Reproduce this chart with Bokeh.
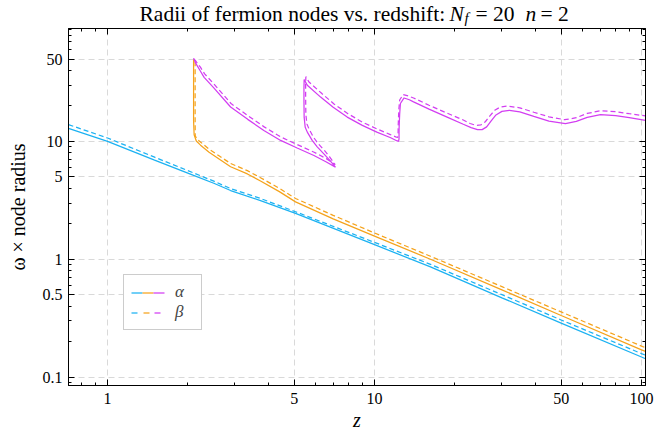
from bokeh.plotting import figure
from bokeh.layouts import column
from bokeh.models import (Range1d, FixedTicker, LogAxis, CustomJSTickFormatter, Label,
                          Legend, LegendItem, ColumnDataSource)
from bokeh.embed import file_html
from bokeh.resources import INLINE

# ---------------- data ----------------
blue_x = [0.714, 1.0, 1.5, 2.1, 2.5, 2.89, 3.74, 5.06, 10, 16.2, 30, 50, 100, 103.5]
blue_y = [12.9, 10.0, 6.95, 5.15, 4.42, 3.83, 3.15, 2.45, 1.33, 0.86, 0.47, 0.287, 0.148, 0.143]
blue_dash_y = [13.9, 10.7, 7.35, 5.4, 4.6, 3.98, 3.28, 2.53, 1.39, 0.905, 0.5, 0.305, 0.158, 0.153]

orange_x = [2.10, 2.10, 2.10, 2.11, 2.15, 2.23, 2.4, 2.65, 2.89, 3.34, 3.74, 4.4, 5.06, 7, 10, 16.2, 30, 50, 100, 103.5]
orange_y = [50, 30, 15, 11.4, 10.1, 9.3, 8.1, 6.95, 6.1, 5.3, 4.62, 3.75, 3.07, 2.2, 1.57, 1.0, 0.55, 0.333, 0.17, 0.165]
orange_dash_x = [2.128, 2.128, 2.128, 2.13, 2.16, 2.24, 2.4, 2.65, 2.89, 3.34, 3.74, 4.4, 5.06, 7, 10, 16.2, 30, 50, 100, 103.5]
orange_dash_y = [48, 30, 15, 11.2, 10.5, 9.8, 8.6, 7.4, 6.5, 5.65, 4.92, 4.0, 3.28, 2.36, 1.67, 1.06, 0.585, 0.357, 0.183, 0.177]

mag_x = [2.10, 2.14, 2.22, 2.30, 2.50, 2.89, 3.35, 3.85, 4.45, 5.13, 5.93, 6.60, 7.14, 6.80, 6.46,
         6.10, 5.84, 5.60, 5.50, 5.45, 5.44, 5.44, 5.45, 5.60, 6.28, 7.00, 7.90, 9.00, 10.2, 11.5,
         12.1, 12.3, 12.35, 12.36, 12.42, 12.5, 12.9, 13.5, 14.0, 16.0, 18.7,
         21.5, 23.0, 24.3, 25.3, 26.3, 27.3, 28.5, 30.0, 32.0, 35.0, 39.5, 45.0, 51.9, 57.0,
         62.6, 70.2, 80.0, 90.0, 103.5]
mag_y = [51, 46, 40, 35, 28.5, 19.6, 15.4, 12.4, 10.2, 8.8, 7.6, 6.7, 6.05, 6.9, 7.85,
         9.0, 10.2, 12.0, 13.2, 16, 22, 28, 33.5, 30, 23.8, 19.5, 16.1, 13.7, 12.0, 10.75,
         10.15, 10.0, 10.5, 13, 17, 21, 23.4, 22.6, 21.7, 18.8, 16.1,
         14.0, 13.1, 12.6, 12.6, 13.3, 14.9, 16.8, 18.0, 18.4, 17.8, 16.3, 14.9, 14.2, 14.8,
         16.0, 16.9, 16.6, 15.9, 15.1]
mag_dash_x = [2.11, 2.15, 2.23, 2.31, 2.51, 2.90, 3.36, 3.86, 4.46, 5.14, 5.94, 6.60, 7.12, 6.82, 6.50,
              6.15, 5.90, 5.68, 5.58, 5.53, 5.52, 5.52, 5.53, 5.68, 6.35, 7.05, 7.95, 9.00, 10.2, 11.4,
              12.0, 12.2, 12.25, 12.27, 12.33, 12.42, 12.8, 13.4, 14.0, 16.0, 18.7,
              21.5, 22.8, 24.0, 25.0, 26.0, 27.0, 28.2, 29.6, 31.5, 35.0, 39.5, 45.0, 51.5, 57.0,
              62.6, 70.0, 80.0, 90.0, 103.5]
mag_dash_y = [50, 47.5, 42.5, 37.5, 30.5, 21, 16.5, 13.3, 10.9, 9.4, 8.1, 7.15, 6.35, 7.3, 8.35,
              9.6, 10.9, 12.8, 14.1, 17, 23.5, 30, 35.5, 32, 25.5, 20.8, 17.2, 14.6, 12.8, 11.5,
              10.95, 10.8, 11.3, 14, 18.5, 22.5, 25, 24.3, 23.4, 20.3, 17.4,
              15.2, 14.2, 13.7, 13.8, 14.7, 16.4, 18.4, 19.6, 20.0, 19.3, 17.7, 16.2, 15.3, 15.9,
              17.3, 18.2, 17.9, 17.2, 16.5]

x_major = [1, 5, 10, 50, 100]
x_minor = [0.8, 0.9, 2, 3, 4, 6, 7, 8, 9, 20, 30, 40, 60, 70, 80, 90]
y_major = [0.1, 0.5, 1, 5, 10, 50]
y_minor = [0.09, 0.2, 0.3, 0.4, 0.6, 0.7, 0.8, 0.9, 2, 3, 4, 6, 7, 8, 9, 20, 30, 40, 60, 70, 80, 90]
x_grid = [1, 5, 10, 50, 100]
y_grid = [0.1, 0.5, 1, 5, 10, 50]

BLUE = "#1cb2f2"
ORANGE = "#f5a31c"
MAGENTA = "#d33ef2"
FONT = "Liberation Serif"

# ---------------- title strip (its frame is aligned with the main frame: page x 68..645) ----------------
tp = figure(width=656, height=28, x_range=Range1d(68, 645), y_range=Range1d(0, 28), title=None,
            x_axis_location=None, y_axis_location=None, output_backend="svg",
            toolbar_location=None, min_border=0)
tp.outline_line_color = None
tp.grid.visible = False
tp.background_fill_color = "white"
tp.border_fill_color = "white"
TY = 15
pieces = [("Radii of fermion nodes vs. redshift:", 139, TY, "normal", "21.5px"),
          ("N", 449, TY, "italic", "21.5px"),
          ("f", 464, TY - 4.5, "italic", "15px"),
          ("= 20", 475, TY, "normal", "21.5px"),
          ("n", 525, TY, "italic", "21.5px"),
          ("= 2", 540, TY, "normal", "21.5px")]
for txt, x, y, style, size in pieces:
    tp.add_layout(Label(x=x, y=y, text=txt, text_font=FONT, text_font_size=size,
                        text_font_style=style, text_color="black",
                        text_baseline="alphabetic", text_align="left"))

# ---------------- main plot ----------------
p = figure(width=656, height=406, x_axis_type="log", y_axis_type="log",
           x_range=Range1d(0.714, 103.5), y_range=Range1d(0.0847, 91),
           output_backend="svg", toolbar_location=None,
           min_border_left=68, min_border_right=11, min_border_top=0, min_border_bottom=49)
p.background_fill_color = "white"
p.border_fill_color = "white"
p.outline_line_color = "black"

p.xaxis.ticker = FixedTicker(ticks=x_major, minor_ticks=x_minor)
p.yaxis.ticker = FixedTicker(ticks=y_major, minor_ticks=y_minor)
p.xaxis.formatter = CustomJSTickFormatter(code="return String(tick)")
p.yaxis.formatter = CustomJSTickFormatter(code="return String(tick)")

for ax in [p.xaxis[0], p.yaxis[0]]:
    ax.major_tick_in = 6
    ax.major_tick_out = 0
    ax.minor_tick_in = 3
    ax.minor_tick_out = 0
    ax.axis_line_color = "black"
    ax.major_tick_line_color = "black"
    ax.minor_tick_line_color = "black"
    ax.major_label_text_font = FONT
    ax.major_label_text_font_size = "16px"
    ax.major_label_text_color = "black"
    ax.axis_label_text_font = FONT
    ax.axis_label_text_font_size = "20px"
    ax.axis_label_text_color = "black"

p.xaxis.axis_label = "z"
p.xaxis.axis_label_text_font_style = "italic"
p.xaxis.major_label_standoff = 7
p.xaxis.axis_label_standoff = 2
p.yaxis.axis_label = "ω × node radius"
p.yaxis.axis_label_text_font_style = "normal"
p.yaxis.major_label_standoff = 6
p.yaxis.axis_label_standoff = 11

for side, ticks, minors in [("right", y_major, y_minor), ("above", x_major, x_minor)]:
    ax = LogAxis(ticker=FixedTicker(ticks=ticks, minor_ticks=minors),
                 formatter=CustomJSTickFormatter(code="return ''"),
                 major_label_text_font_size="0px", major_label_standoff=0,
                 major_tick_in=6, major_tick_out=0, minor_tick_in=3, minor_tick_out=0,
                 axis_line_color="black")
    p.add_layout(ax, side)

p.xgrid.ticker = FixedTicker(ticks=x_grid)
p.ygrid.ticker = FixedTicker(ticks=y_grid)
for g in [p.xgrid[0], p.ygrid[0]]:
    g.grid_line_color = "#d9d9d9"
    g.grid_line_dash = "6 4"
    g.grid_line_width = 1

LW = 1.25
DASH = "5 3"
p.line(blue_x, blue_y, color=BLUE, line_width=LW)
p.line(blue_x, blue_dash_y, color=BLUE, line_width=LW, line_dash=DASH)
p.line(orange_x, orange_y, color=ORANGE, line_width=LW)
p.line(orange_dash_x, orange_dash_y, color=ORANGE, line_width=LW, line_dash=DASH)
p.line(mag_x, mag_y, color=MAGENTA, line_width=LW)
p.line(mag_dash_x, mag_dash_y, color=MAGENTA, line_width=LW, line_dash=DASH)

# legend samples: a three-colour line made of offset dash patterns (renderers hold a NaN point)
nan = float("nan")
la = [p.line("x", "y", source=ColumnDataSource(dict(x=[nan], y=[nan])), color=c, line_width=LW,
             line_dash="11 23", line_dash_offset=o)
      for c, o in [(BLUE, 0), (ORANGE, 23), (MAGENTA, 12)]]
lb = [p.line("x", "y", source=ColumnDataSource(dict(x=[nan], y=[nan])), color=c, line_width=LW,
             line_dash="6 28", line_dash_offset=o)
      for c, o in [(BLUE, 0), (ORANGE, 22), (MAGENTA, 11)]]
legend = Legend(items=[LegendItem(label="α", renderers=la), LegendItem(label="β", renderers=lb)],
                location=(55, 55), glyph_width=34, glyph_height=19, label_height=19,
                label_width=19, label_standoff=10, padding=7, spacing=0, margin=0,
                label_text_font=FONT, label_text_font_size="17px", label_text_font_style="italic",
                border_line_color="#999999", border_line_width=1.5, background_fill_color="white",
                background_fill_alpha=1.0)
p.add_layout(legend, "center")

layout = column(tp, p, spacing=0)
open("out.html", "w").write(file_html(layout, INLINE))
